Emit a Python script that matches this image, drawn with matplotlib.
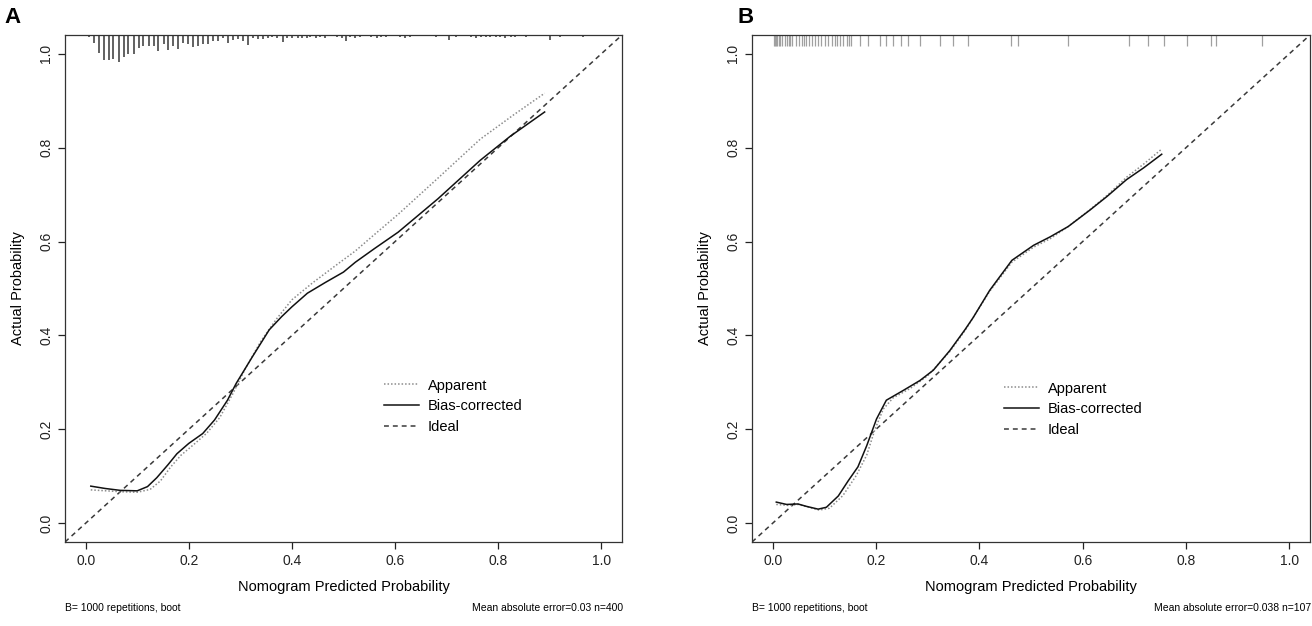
import matplotlib
matplotlib.use("Agg")
import matplotlib.pyplot as plt
import numpy as np

plt.rcParams['font.family'] = ['Liberation Sans', 'DejaVu Sans']

# ---- panel A: n=400 ----
a_pred = [0.01, 0.038, 0.067, 0.10, 0.12, 0.138, 0.16, 0.177, 0.20, 0.227, 0.25, 0.275,
          0.292, 0.323, 0.356, 0.38, 0.40, 0.43, 0.465, 0.50, 0.523, 0.56, 0.606, 0.683,
          0.765, 0.823, 0.89]
a_bias = [0.079, 0.074, 0.070, 0.069, 0.078, 0.097, 0.125, 0.148, 0.170, 0.191, 0.220, 0.262,
          0.298, 0.354, 0.412, 0.440, 0.461, 0.490, 0.513, 0.535, 0.556, 0.585, 0.620, 0.691,
          0.773, 0.824, 0.876]
a_app_pred = [0.01, 0.04, 0.07, 0.10, 0.125, 0.145, 0.165, 0.185, 0.21, 0.235, 0.26, 0.285,
              0.31, 0.34, 0.37, 0.40, 0.44, 0.48, 0.523, 0.56, 0.606, 0.683, 0.765, 0.83, 0.89]
a_app = [0.071, 0.069, 0.067, 0.066, 0.072, 0.090, 0.120, 0.145, 0.168, 0.192, 0.225, 0.275,
         0.330, 0.388, 0.435, 0.476, 0.512, 0.545, 0.580, 0.615, 0.658, 0.735, 0.818, 0.870, 0.916]

# distribution of predicted probabilities (top rug), relative counts
a_rug_x = [0.006, 0.016, 0.026, 0.035, 0.045, 0.054, 0.064, 0.074, 0.083, 0.093, 0.103, 0.112,
           0.122, 0.132, 0.141, 0.151, 0.160, 0.170, 0.180, 0.189, 0.199, 0.208, 0.218, 0.228,
           0.237, 0.247, 0.257, 0.266, 0.276, 0.285, 0.295, 0.305, 0.314, 0.324, 0.334, 0.343,
           0.353, 0.362, 0.372, 0.382, 0.391, 0.401, 0.411, 0.420, 0.430,
           0.436, 0.446, 0.455, 0.465, 0.487, 0.497, 0.504, 0.513, 0.522, 0.532, 0.554, 0.564,
           0.573, 0.583, 0.609, 0.619, 0.628, 0.679, 0.705, 0.718, 0.747, 0.756, 0.766, 0.776,
           0.785, 0.795, 0.804, 0.814, 0.824, 0.833, 0.853, 0.901, 0.920, 0.965]
a_rug_n = [1, 7, 17, 24, 24, 23, 26, 21, 18, 18, 12, 10,
           10, 10, 15, 8, 14, 10, 13, 7, 8, 11, 10, 8,
           8, 5, 5, 2, 7, 4, 3, 5, 9, 2, 3, 3,
           2, 1, 2, 6, 2, 2, 2, 2, 2,
           1, 2, 1, 2, 1, 2, 5, 1, 2, 1, 1, 2,
           1, 1, 1, 2, 1, 1, 4, 1, 1, 2, 1, 1,
           1, 1, 1, 2, 1, 1, 1, 4, 1, 1]

# ---- panel B: n=107 ----
b_pred = [0.007, 0.027, 0.049, 0.065, 0.088, 0.104, 0.127, 0.146, 0.165, 0.182, 0.201, 0.220,
          0.253, 0.285, 0.311, 0.343, 0.372, 0.388, 0.42, 0.463, 0.505, 0.537, 0.572, 0.614,
          0.647, 0.685, 0.718, 0.753]
b_bias = [0.045, 0.040, 0.041, 0.036, 0.030, 0.034, 0.058, 0.090, 0.120, 0.165, 0.222, 0.262,
          0.283, 0.304, 0.326, 0.368, 0.412, 0.438, 0.496, 0.560, 0.592, 0.610, 0.632, 0.667,
          0.696, 0.732, 0.757, 0.786]
b_app_pred = [0.007, 0.03, 0.05, 0.07, 0.09, 0.11, 0.136, 0.162, 0.182, 0.198, 0.214, 0.233,
              0.266, 0.30, 0.343, 0.372, 0.42, 0.463, 0.505, 0.537, 0.572, 0.614, 0.647, 0.685,
              0.718, 0.753]
b_app = [0.040, 0.038, 0.040, 0.034, 0.028, 0.032, 0.059, 0.102, 0.145, 0.200, 0.243, 0.267,
         0.287, 0.314, 0.366, 0.410, 0.494, 0.556, 0.588, 0.606, 0.632, 0.668, 0.698, 0.737,
         0.765, 0.797]
b_rug_x = [0.002, 0.004, 0.006, 0.009, 0.012, 0.015, 0.019, 0.023, 0.027, 0.031, 0.034, 0.038,
           0.046, 0.051, 0.056, 0.060, 0.065, 0.070, 0.076, 0.081, 0.088, 0.094, 0.101, 0.107,
           0.114, 0.120, 0.124, 0.131, 0.136, 0.143, 0.148, 0.152, 0.169, 0.185, 0.207, 0.220,
           0.233, 0.249, 0.262, 0.285, 0.324, 0.349, 0.378, 0.461, 0.475, 0.572, 0.689, 0.727,
           0.758, 0.802, 0.848, 0.859, 0.947]

ticks = [0.0, 0.2, 0.4, 0.6, 0.8, 1.0]
tick_labels = ['0.0', '0.2', '0.4', '0.6', '0.8', '1.0']
legend_labels = ['Apparent', 'Bias-corrected', 'Ideal']

W, H = 1312, 626
PT = 72 / 100  # points per pixel at dpi 100
fig = plt.figure(figsize=(W / 100, H / 100), dpi=100)


def px_axes(x0, x1, y0, y1):
    return fig.add_axes([x0 / W, 1 - y1 / H, (x1 - x0) / W, (y1 - y0) / H])


def draw_panel(ax, pred, bias, app_pred, app, letter, letter_dx, footer_right, leg_anchor):
    lo, hi = -0.04, 1.04
    ax.set_xlim(lo, hi)
    ax.set_ylim(lo, hi)
    ax.plot([lo, hi], [lo, hi], ls=(0, (3.2, 2.6)), color='#3a3a3a', lw=1.1, label=legend_labels[2])
    ax.plot(app_pred, app, ls=(0, (1, 1.3)), color='#8c8c8c', lw=1.1, label=legend_labels[0])
    ax.plot(pred, bias, color='#111111', lw=1.1, label=legend_labels[1])

    ax.set_xticks(ticks)
    ax.set_xticklabels(tick_labels)
    ax.set_yticks(ticks)
    ax.set_yticklabels(tick_labels, rotation=90, va='center')
    ax.tick_params(direction='out', length=5, width=0.9, labelsize=10, pad=3.5, colors='#222222')
    for s in ax.spines.values():
        s.set_color('#333333')
        s.set_linewidth(0.9)

    ax.set_xlabel('Nomogram Predicted Probability', fontsize=10.5, labelpad=9)
    ax.set_ylabel('Actual Probability', fontsize=10.5, labelpad=10)

    h, l = ax.get_legend_handles_labels()
    order = [l.index(n) for n in legend_labels]
    ax.legend([h[i] for i in order], [l[i] for i in order], loc='center left',
              bbox_to_anchor=leg_anchor, frameon=False, fontsize=10.5, handlelength=2.4,
              handletextpad=0.6, labelspacing=0.45, borderpad=0, borderaxespad=0)

    ax.annotate('B= 1000 repetitions, boot', xy=(0, 0), xycoords='axes fraction',
                xytext=(0, -61 * PT), textcoords='offset points', fontsize=7.5,
                ha='left', va='top')
    ax.annotate(footer_right, xy=(1, 0), xycoords='axes fraction',
                xytext=(1 * PT, -61 * PT), textcoords='offset points', fontsize=7.5,
                ha='right', va='top')
    ax.annotate(letter, xy=(0, 1), xycoords='axes fraction', xytext=(letter_dx * PT, 28 * PT),
                textcoords='offset points', fontsize=16, fontweight='bold', ha='left', va='top')


axA = px_axes(65, 622, 35, 542)
draw_panel(axA, a_pred, a_bias, a_app_pred, a_app, 'A', -61,
           'Mean absolute error=0.03 n=400', (0.573, 0.268))
top = axA.get_ylim()[1]
unit = 1.08 / 507
axA.vlines(a_rug_x, [top - n * unit - 0.002 for n in a_rug_n], top,
           color='#555555', lw=1.3)

axB = px_axes(752, 1310, 35, 542)
draw_panel(axB, b_pred, b_bias, b_app_pred, b_app, 'B', -14,
           'Mean absolute error=0.038 n=107', (0.452, 0.262))
axB.vlines(b_rug_x, top - 0.024, top, color='#a0a0a0', lw=0.9)

fig.savefig('out.png', dpi=100)
